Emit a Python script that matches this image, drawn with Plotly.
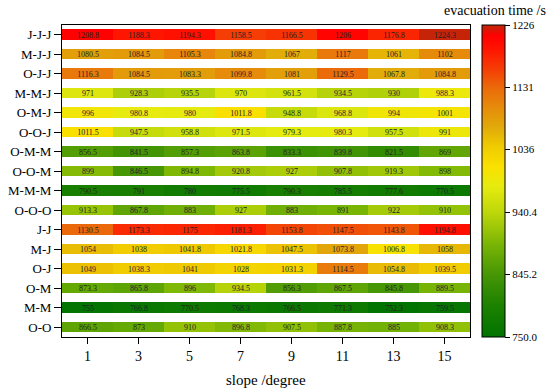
import plotly.graph_objects as go

rows = ["J-J-J", "M-J-J", "O-J-J", "M-M-J", "O-M-J", "O-O-J", "O-M-M", "O-O-M",
        "M-M-M", "O-O-O", "J-J", "M-J", "O-J", "O-M", "M-M", "O-O"]
slopes = [1, 3, 5, 7, 9, 11, 13, 15]

values = [
    [1208.8, 1188.3, 1194.3, 1158.5, 1166.5, 1206, 1176.8, 1224.3],
    [1080.5, 1084.5, 1105.3, 1084.8, 1067, 1117, 1061, 1102],
    [1116.3, 1084.5, 1083.3, 1099.8, 1081, 1129.5, 1067.8, 1084.8],
    [971, 928.3, 935.5, 970, 961.5, 934.5, 930, 988.3],
    [996, 980.8, 980, 1011.8, 948.8, 968.8, 994, 1001],
    [1011.5, 947.5, 958.8, 971.5, 979.3, 980.3, 957.5, 991],
    [856.5, 841.5, 857.3, 863.8, 833.3, 839.8, 821.5, 869],
    [899, 846.5, 894.8, 920.8, 927, 907.8, 919.3, 898],
    [790.5, 791, 780, 775.5, 790.3, 785.5, 777.6, 770.5],
    [913.3, 867.8, 883, 927, 883, 891, 922, 910],
    [1130.5, 1173.3, 1175, 1181.3, 1153.8, 1147.5, 1143.8, 1194.8],
    [1054, 1038, 1041.8, 1021.8, 1047.5, 1073.8, 1006.8, 1058],
    [1049, 1038.3, 1041, 1028, 1031.3, 1114.5, 1054.8, 1039.5],
    [873.3, 865.8, 896, 934.5, 856.3, 867.5, 845.8, 889.5],
    [755, 766.8, 770.5, 768.3, 766.5, 771.3, 752.3, 759.5],
    [866.5, 873, 910, 896.8, 907.5, 887.8, 885, 908.3],
]

cbar_ticks = [750.0, 845.2, 940.4, 1036, 1131, 1226]
cbar_ticktext = ["750.0", "845.2", "940.4", "1036", "1131", "1226"]

text = [[("%g" % v) for v in r] for r in values]

colorscale = [
    [0.0, "rgb(0,115,0)"],
    [0.105, "rgb(30,130,0)"],
    [0.2, "rgb(70,150,5)"],
    [0.294, "rgb(120,180,5)"],
    [0.4, "rgb(190,215,10)"],
    [0.483, "rgb(230,235,15)"],
    [0.546, "rgb(250,225,0)"],
    [0.61, "rgb(240,203,0)"],
    [0.672, "rgb(225,170,10)"],
    [0.735, "rgb(230,140,10)"],
    [0.8, "rgb(235,105,10)"],
    [0.86, "rgb(245,60,5)"],
    [0.924, "rgb(255,20,0)"],
    [0.966, "rgb(255,0,0)"],
    [1.0, "rgb(190,40,10)"],
]

serif = "Liberation Serif, Times New Roman, serif"

fig = go.Figure(go.Heatmap(
    z=values, x=slopes, y=rows,
    text=text, texttemplate="%{text}",
    textfont=dict(family=serif, size=8, color="#222"),
    colorscale=colorscale, zmin=750, zmax=1226,
    ygap=9,
    colorbar=dict(
        x=1.029, xanchor="left", y=0.5, yanchor="middle",
        len=1.0, lenmode="fraction", thickness=23, thicknessmode="pixels",
        ypad=0, xpad=0,
        outlinecolor="black", outlinewidth=1,
        tickvals=cbar_ticks, ticktext=cbar_ticktext,
        ticks="outside", ticklen=5, tickcolor="black",
        tickfont=dict(family=serif, size=11, color="black"),
    ),
))

fig.update_xaxes(
    range=[0, 16], tickvals=slopes, ticks="outside", ticklen=6,
    tickcolor="black", showline=True, linecolor="black", linewidth=1,
    mirror=True, showgrid=False, zeroline=False,
    tickfont=dict(family=serif, size=14, color="black"),
)
fig.update_yaxes(
    type="category", autorange="reversed", ticks="outside", ticklen=7,
    tickcolor="black", showline=True, linecolor="black", linewidth=1,
    mirror=True, showgrid=False, zeroline=False,
    tickfont=dict(family=serif, size=13, color="black"),
)

fig.add_annotation(
    text="slope /degree", xref="paper", yref="paper",
    x=0.5, y=-0.138, xanchor="center", yanchor="middle", showarrow=False,
    font=dict(family=serif, size=15, color="black"),
)
fig.add_annotation(
    text="evacuation time /s", xref="paper", yref="paper",
    x=1.19, y=1.048, xanchor="right", yanchor="middle", showarrow=False,
    font=dict(family=serif, size=14, color="black"),
)

fig.update_layout(
    width=550, height=392,
    margin=dict(l=62, r=80, t=25, b=55, autoexpand=False),
    paper_bgcolor="white", plot_bgcolor="white",
)

fig.write_html("out.html", config={"displayModeBar": False},
               post_script="document.body.style.margin='0';")
